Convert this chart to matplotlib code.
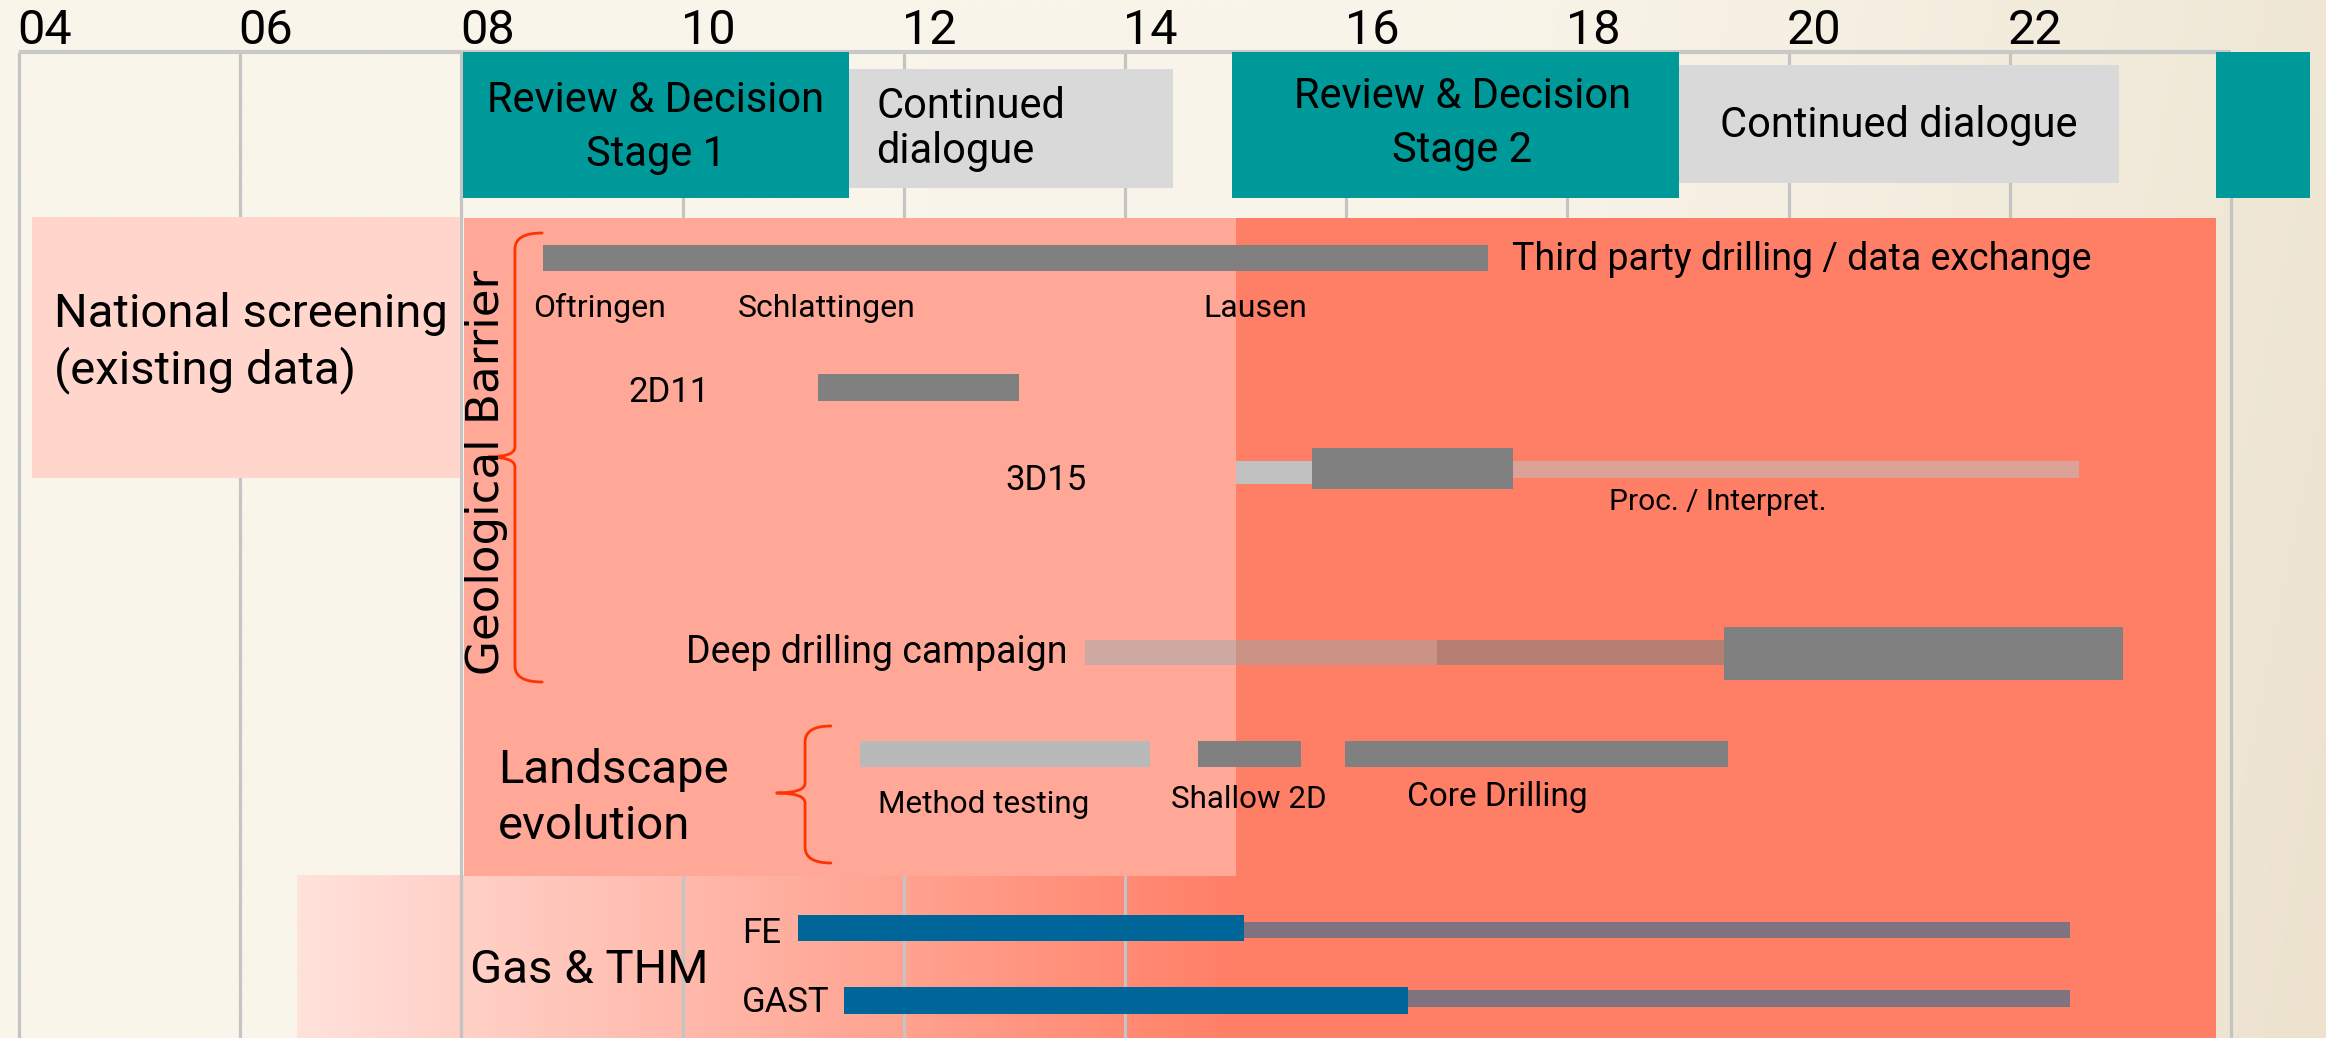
import numpy as np
import matplotlib
matplotlib.use('Agg')
import matplotlib.pyplot as plt
from matplotlib.path import Path
from matplotlib.patches import PathPatch
from matplotlib import font_manager as fm

# ---------------- data (years, 2004 = 4 ...) ----------------
grid_years = [4, 6, 8, 10, 12, 14, 16, 18, 20, 22, 24]
tick_years = [4, 6, 8, 10, 12, 14, 16, 18, 20, 22]
tick_labels = ['04', '06', '08', '10', '12', '14', '16', '18', '20', '22']

review_labels = ['Review & Decision\nStage 1', 'Review & Decision\nStage 2', '']
review_start = [8.01, 14.97, 23.86]
review_end = [11.50, 19.01, 24.71]

dialogue_labels = ['Continued\ndialogue', 'Continued dialogue']
dialogue_start = [11.46, 19.01]
dialogue_end = [14.43, 22.99]

screening_label = 'National screening\n(existing data)'
screening_span = [4.12, 7.99]

siting_span = [8.02, 15.0, 23.86]
gas_span = [6.51, 15.0, 23.86]

third_party_label = 'Third party drilling / data exchange'
third_party = [8.74, 17.28]
site_names = ['Oftringen', 'Schlattingen', 'Lausen']
site_years = [8.65, 10.5, 14.71]

survey_2d11 = [11.22, 13.04]
survey_3d15_acq = [15.0, 15.69]
survey_3d15_main = [15.69, 17.51]
survey_3d15_proc = [17.51, 22.63]

deep_drilling_start = [13.64, 16.82, 19.42]
deep_drilling_end = [16.82, 19.42, 23.02]

landscape_labels = ['Method testing', 'Shallow 2D', 'Core Drilling']
landscape_start = [11.60, 14.66, 15.99]
landscape_end = [14.23, 15.59, 19.45]

gas_labels = ['FE', 'GAST']
gas_exp_start = [11.04, 11.46]
gas_exp_mid = [15.08, 16.56]
gas_exp_end = [22.54, 22.54]

# ---------------- fonts ----------------
names = {f.name for f in fm.fontManager.ttflist}


def pick(*cands):
    for c in cands:
        if c in names:
            return c
    return 'DejaVu Sans'


MAIN = pick('Roboto', 'Lato', 'DejaVu Sans')
ROT = 'DejaVu Sans'

# ---------------- colours ----------------
TEAL = '#009999'
LGREY = '#D9D9D9'
GRID = '#C4C4C4'
PINK = '#FFD5CC'
SALMON_L = '#FFA897'
SALMON_D = '#FF7F66'
BAR = '#808080'
BRACE = '#FF3300'
BLUE = '#006699'
PURPLEGREY = '#807380'

# ---------------- figure ----------------
W, H = 2326, 1038
fig = plt.figure(figsize=(W / 100, H / 100), dpi=100)
ax = fig.add_axes([0, 0, 1, 1])
X0, X1 = 3.828, 24.859
ax.set_xlim(X0, X1)
ax.set_ylim(H, 0)
ax.axis('off')

# background gradient (cream -> beige towards the right)
gx = np.linspace(0, 1, 400)[None, :]
gy = np.linspace(0, 1, 200)[:, None]
t = np.clip((gx - 0.55) / 0.45, 0, 1) ** 1.5 * 0.75 + 0.25 * gy * np.clip((gx - 0.4) / 0.6, 0, 1)
c0 = np.array([249, 245, 234]) / 255
c1 = np.array([236, 226, 206]) / 255
bg = c0 + (c1 - c0) * t[..., None]
ax.imshow(bg, extent=(X0, X1, H, 0), aspect='auto', zorder=0, interpolation='bilinear')

# Gas & THM band: gradient part (below grid lines)
ggx = np.linspace(0, 1, 300)[None, :]
ca = np.array([255, 226, 220]) / 255
cb = np.array([255, 127, 102]) / 255
grad = ca + (cb - ca) * ggx[..., None]
grad = np.repeat(grad, 2, axis=0)
ax.imshow(grad, extent=(gas_span[0], gas_span[1], H, 875), aspect='auto', zorder=1,
          interpolation='bilinear')
ax.set_xlim(X0, X1)
ax.set_ylim(H, 0)

# grid
ax.vlines(grid_years, 52, H, color=GRID, lw=2.3, zorder=2)
ax.hlines(52, grid_years[0], grid_years[-1], color='#C8C8C8', lw=3, zorder=2)
for yr, lab in zip(tick_years, tick_labels):
    ax.text(yr - 0.015, 44, lab, ha='left', va='baseline', fontsize=35, family=MAIN, zorder=7)


def lines(x, baselines, text, **kw):
    for b, s in zip(baselines, text.split('\n')):
        ax.text(x, b, s, va='baseline', family=MAIN, zorder=8, **kw)


# review & decision / dialogue boxes
ax.barh([125] * 3, np.subtract(review_end, review_start), left=review_start, height=146,
        color=TEAL, zorder=5, clip_on=False)
ax.barh([128.5, 124], np.subtract(dialogue_end, dialogue_start), left=dialogue_start,
        height=[119, 118], color=LGREY, zorder=4)
lines((review_start[0] + review_end[0]) / 2, [112, 166], review_labels[0], ha='center', fontsize=30)
lines((review_start[1] + review_end[1]) / 2 + 0.06, [108, 162], review_labels[1], ha='center', fontsize=30)
lines(dialogue_start[0] + 0.29, [118, 163], dialogue_labels[0], ha='left', fontsize=30)
lines((dialogue_start[1] + dialogue_end[1]) / 2, [137], dialogue_labels[1], ha='center', fontsize=30)

# national screening
ax.barh(347.5, screening_span[1] - screening_span[0], left=screening_span[0], height=261,
        color=PINK, zorder=3)
lines(4.32, [327, 383], screening_label, ha='left', fontsize=34)

# siting region (stage 1 light, stage 2 dark)
ax.barh(547, siting_span[1] - siting_span[0], left=siting_span[0], height=658, color=SALMON_L, zorder=3)
ax.barh(547, siting_span[2] - siting_span[1], left=siting_span[1], height=658, color=SALMON_D, zorder=3)
# gas band solid part (above grid lines)
ax.barh((875 + H) / 2, gas_span[2] - gas_span[1], left=gas_span[1], height=H - 875,
        color=SALMON_D, zorder=3)


def brace(xv, xtip, xend, ytop, ymid, ybot, r=16):
    verts = [(xend, ytop), (xv, ytop), (xv, ytop + r),
             (xv, ymid - 10), (xv, ymid), (xtip, ymid),
             (xv, ymid), (xv, ymid + 10),
             (xv, ybot - r), (xv, ybot), (xend, ybot)]
    codes = [Path.MOVETO, Path.CURVE3, Path.CURVE3,
             Path.LINETO, Path.CURVE3, Path.CURVE3,
             Path.CURVE3, Path.CURVE3,
             Path.LINETO, Path.CURVE3, Path.CURVE3]
    ax.add_patch(PathPatch(Path(verts, codes), fill=False, edgecolor=BRACE, lw=2.0,
                           zorder=6, capstyle='round', joinstyle='round'))


brace(8.484, 8.24, 8.73, 233, 457, 682)
brace(11.107, 10.85, 11.34, 726, 793, 863)

ax.text(8.225, 472, 'Geological Barrier', rotation=90, ha='center', va='center',
        fontsize=32.5, family=ROT, zorder=8)

# third party drilling
ax.barh(258, third_party[1] - third_party[0], left=third_party[0], height=26, color=BAR, zorder=6)
ax.text(17.5, 270, third_party_label, va='baseline', fontsize=27, family=MAIN, zorder=8)
for nm, yr in zip(site_names, site_years):
    ax.text(yr, 317, nm, va='baseline', fontsize=23, family=MAIN, zorder=8)

# 2D11
ax.text(9.51, 402, '2D11', va='baseline', fontsize=25, family=MAIN, zorder=8)
ax.barh(387.5, survey_2d11[1] - survey_2d11[0], left=survey_2d11[0], height=27, color=BAR, zorder=6)

# 3D15
ax.text(12.92, 490, '3D15', va='baseline', fontsize=25, family=MAIN, zorder=8)
ax.barh(472.5, survey_3d15_acq[1] - survey_3d15_acq[0], left=survey_3d15_acq[0], height=23,
        color='#C0C0C0', zorder=6)
ax.barh(468.5, survey_3d15_main[1] - survey_3d15_main[0], left=survey_3d15_main[0], height=41,
        color=BAR, zorder=7)
ax.barh(469.5, survey_3d15_proc[1] - survey_3d15_proc[0], left=survey_3d15_proc[0], height=17,
        color='#C0C0C0', alpha=0.55, zorder=6)
ax.text(18.38, 510, 'Proc. / Interpret.', va='baseline', fontsize=21.5, family=MAIN, zorder=8)

# deep drilling
ax.text(13.48, 663, 'Deep drilling campaign', ha='right', va='baseline', fontsize=27,
        family=MAIN, zorder=8)
dd_colors = ['#8DACB1', BAR, BAR]
dd_alpha = [0.44, 0.57, 1.0]
dd_y = [652.5, 652.5, 653.5]
dd_h = [25, 25, 53]
for s, e, c, a, yy, hh in zip(deep_drilling_start, deep_drilling_end, dd_colors, dd_alpha, dd_y, dd_h):
    ax.barh(yy, e - s, left=s, height=hh, color=c, alpha=a, zorder=6)

# landscape evolution
lines(8.33, [783, 839], 'Landscape\nevolution', ha='left', fontsize=34)
ls_colors = ['#B9B9B9', BAR, BAR]
ax.barh([754] * 3, np.subtract(landscape_end, landscape_start), left=landscape_start,
        height=26, color=ls_colors, zorder=6)
ls_label_x = [11.77, 14.42, 16.55]
ls_label_b = [813, 808, 806]
ls_label_fs = [22.6, 22.6, 24]
for lab, lx, lb, fs in zip(landscape_labels, ls_label_x, ls_label_b, ls_label_fs):
    ax.text(lx, lb, lab, va='baseline', fontsize=fs, family=MAIN, zorder=8)

# gas & THM
ax.text(8.08, 983, 'Gas & THM', va='baseline', fontsize=34, family=MAIN, zorder=8)
gas_y_blue = [928, 1000.5]
gas_h_blue = [26, 27]
gas_y_grey = [930, 998.5]
gas_h_grey = [16, 17]
gas_label_b = [943, 1012]
ax.barh(gas_y_grey, np.subtract(gas_exp_end, gas_exp_mid), left=gas_exp_mid, height=gas_h_grey,
        color=PURPLEGREY, zorder=6)
ax.barh(gas_y_blue, np.subtract(gas_exp_mid, gas_exp_start), left=gas_exp_start, height=gas_h_blue,
        color=BLUE, zorder=6)
for lab, b in zip(gas_labels, gas_label_b):
    ax.text(10.54, b, lab, va='baseline', fontsize=25, family=MAIN, zorder=8)

fig.savefig('out.png', dpi=100, facecolor=fig.get_facecolor())
